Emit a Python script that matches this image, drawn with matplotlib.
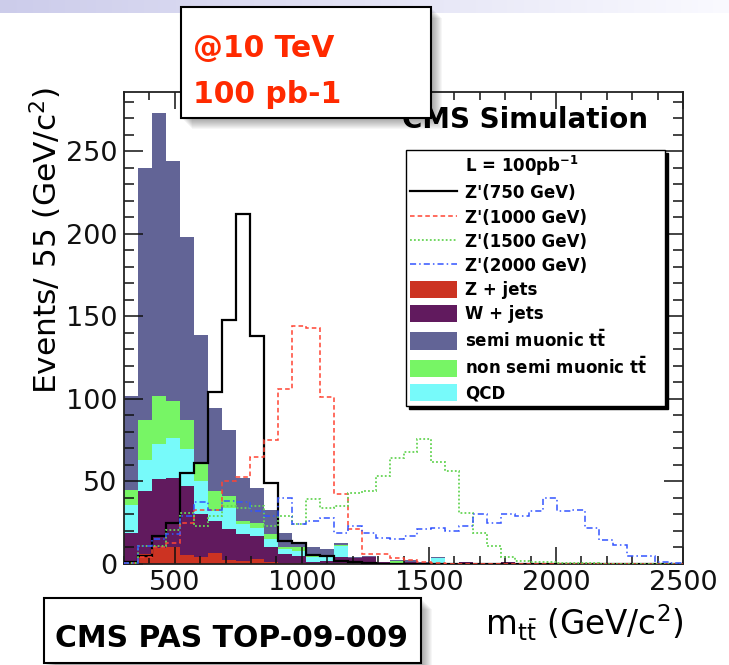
"""Z' -> ttbar invariant mass, CMS simulation at 10 TeV, 100 pb-1 (slide snapshot)."""
import numpy as np
import matplotlib

matplotlib.use("Agg")
import matplotlib.pyplot as plt
from matplotlib.lines import Line2D
from matplotlib.patches import Patch, Rectangle
from matplotlib.ticker import MultipleLocator

# binning of m_ttbar (GeV/c^2)
m_min, m_max, bin_width = 300, 2500, 55

# stacked backgrounds, events per bin (bottom to top)
z_jets = [2, 6, 9.5, 10.5, 5.5, 4.5, 6.5, 2.5, 2, 3,
          1, 0.8, 0.5, 0.3, 0.3, 0.3, 0.2, 0.2, 0.2, 0.1,
          0, 0, 0, 0, 0, 0, 0, 0, 0, 0,
          0, 0, 0, 0, 0, 0, 0, 0, 0, 0]
w_jets = [17, 38.5, 42, 41.5, 41.5, 25.5, 19.5, 18.5, 16, 14,
          9, 5.2, 4.5, 1.2, 1.7, 4.2, 3.2, 3.8, 0.8, 0.7,
          1, 0.5, 0.5, 0.3, 1, 0.3, 0.3, 1, 0.3, 0.8,
          0.2, 0.2, 0.2, 0.2, 0.2, 0.2, 0.2, 0.8, 0.2, 0.1]
qcd = [17, 18.5, 21.5, 24.5, 22.5, 20, 6, 13, 6, 5,
       5, 3, 3, 3, 2, 6.5, 0.2, 0.2, 0.1, 0.1,
       0.2, 0.1, 3, 0.1, 0.1, 0, 0, 0, 0, 0,
       0, 0, 0, 0, 0, 0, 0, 0, 0, 0]
non_semi_mu_tt = [9, 24, 29, 22.5, 17.5, 12, 12, 7, 2, 3,
                  3, 1.5, 2, 0.5, 1.5, 0.5, 0.2, 0.3, 0.1, 1.1,
                  0.3, 0.2, 0.2, 0.1, 0.1, 0.1, 0, 0, 0, 0,
                  0, 0, 0, 0, 0, 0, 0, 0, 0, 0]
semi_mu_tt = [57, 153, 171, 145, 111, 77, 50.5, 40, 26, 21,
              15, 8.5, 3, 5.5, 3.5, 1.5, 0.7, 0.5, 0.3, 0.2,
              0.9, 0.2, 0.3, 0.1, 0.1, 0.1, 0, 0, 0, 0,
              0, 0, 0, 0, 0, 0, 0, 0, 0, 0]

# Z' signals, events per bin
zp750 = [1, 5, 17, 25, 55, 61, 104, 148, 212, 138,
         49, 14, 13, 5.5, 5, 2, 1, 0.5, 0.3, 0.2,
         0.1, 0, 0, 0, 0, 0, 0, 0, 0, 0,
         0, 0, 0, 0, 0, 0, 0, 0, 0, 0]
zp1000 = [0.5, 4, 10, 13, 25, 33, 33, 50.5, 52.5, 65,
          75, 106, 144, 143, 101, 42.5, 21, 6, 6, 3.4,
          2.4, 1, 0.5, 0.3, 0.3, 0.2, 0.2, 0.1, 0.1, 0.1,
          0, 0, 0, 0, 0, 0, 0, 0, 0, 0]
zp1500 = [0.5, 11, 11, 20.5, 31, 23, 29, 35, 34, 35,
          23, 29, 24, 39.5, 34, 35, 43, 44.5, 53.6, 64,
          68, 76, 62, 56.5, 31, 19, 11, 4, 2, 1.5,
          1, 0.8, 0.5, 0.5, 0.3, 0.3, 0.2, 0.2, 0.1, 0.1]
zp2000 = [0.5, 11, 15, 18, 29, 37.5, 33, 38, 37.5, 32,
          29, 40, 24, 26, 28, 18.6, 23, 18.6, 16, 15,
          17, 21.5, 22, 20, 23, 30, 25, 30, 29, 32,
          40, 32, 33, 21.7, 14.6, 11.5, 5, 4.7, 1, 0.5]

bkg_labels = ["Z + jets", "W + jets", "QCD",
              r"non semi muonic t$\bar{\mathbf{t}}$", r"semi muonic t$\bar{\mathbf{t}}$"]
bkg_colors = ["#cc3322", "#611a5e", "#77fafa", "#77f565", "#626496"]
sig_labels = ["Z'(750 GeV)", "Z'(1000 GeV)", "Z'(1500 GeV)", "Z'(2000 GeV)"]
sig_colors = ["black", "#ff4433", "#66d455", "#3355ff"]
sig_styles = ["-", (0, (3, 2)), (0, (1, 1.2)), (0, (4, 2, 1, 2))]
sig_widths = [1.6, 1.1, 1.3, 1.1]

plt.rcParams["font.family"] = ["DejaVu Sans"]
plt.rcParams["mathtext.default"] = "regular"

W, H = 729, 665
fig = plt.figure(figsize=(W / 100, H / 100), dpi=100)
fig.patch.set_facecolor("white")

# slide header strip
strip = fig.add_axes([0, 1 - 13 / H, 1, 13 / H])
grad = np.linspace(0, 1, 256)[None, :, None]
c0 = np.array([0.80, 0.80, 0.92])
c1 = np.array([0.98, 0.98, 1.0])
strip.imshow(c0 + (c1 - c0) * grad, aspect="auto", extent=[0, 1, 0, 1])
strip.axis("off")

ax = fig.add_axes([124 / W, 1 - 564 / H, (683 - 124) / W, (564 - 92) / H])
edges = np.arange(m_min, m_max + 1, bin_width)

stack = np.vstack([z_jets, w_jets, qcd, non_semi_mu_tt, semi_mu_tt])
tops = np.cumsum(stack, axis=0)
bottom = np.zeros(len(edges) - 1)
for top, col in zip(tops, bkg_colors):
    ax.stairs(top, edges, baseline=bottom, fill=True, color=col, lw=0, zorder=1)
    bottom = top

for vals, col, ls, lw in zip([zp750, zp1000, zp1500, zp2000], sig_colors, sig_styles, sig_widths):
    ax.stairs(vals, edges, color=col, linestyle=ls, lw=lw, zorder=3)

ax.set_xlim(m_min, m_max)
ax.set_ylim(0, 286)
ax.xaxis.set_major_locator(MultipleLocator(500))
ax.xaxis.set_minor_locator(MultipleLocator(100))
ax.yaxis.set_major_locator(MultipleLocator(50))
ax.yaxis.set_minor_locator(MultipleLocator(10))
ax.tick_params(which="both", direction="in", top=True, right=True, width=1.1,
               labelsize=19.5, colors="#111111")
ax.tick_params(axis="y", which="major", length=13.5, pad=5)
ax.tick_params(axis="y", which="minor", length=7)
ax.tick_params(axis="x", which="major", length=12, pad=4)
ax.tick_params(axis="x", which="minor", length=5.5)
for s in ax.spines.values():
    s.set_linewidth(1.3)
    s.set_color("#222222")

ax.set_ylabel(r"Events/ 55 (GeV/c$^{2}$)", fontsize=22.5, va="center", ha="center")
ax.yaxis.set_label_coords(-0.14, 0.686)
ax.set_xlabel(r"m$_{t\bar{t}}$ (GeV/c$^{2}$)", fontsize=23.5, va="center", ha="right")
ax.xaxis.set_label_coords(1.0, -0.125)

# legend
handles = [Line2D([], [], lw=0)]
labels = [r"L = 100pb$^{\mathbf{-1}}$"]
for col, ls, lw, lab in zip(sig_colors, sig_styles, sig_widths, sig_labels):
    handles.append(Line2D([], [], color=col, linestyle=ls, lw=lw))
    labels.append(lab)
for idx in [0, 1, 4, 3, 2]:
    handles.append(Patch(facecolor=bkg_colors[idx], edgecolor="none"))
    labels.append(bkg_labels[idx])
leg = ax.legend(handles, labels, loc="upper left", mode="expand",
                bbox_to_anchor=(406 / W, 1 - 412 / H, (665 - 406) / W, (412 - 150) / H),
                bbox_transform=fig.transFigure, borderaxespad=0,
                prop={"weight": "bold", "size": 12}, handlelength=2.8, handleheight=1.2,
                handletextpad=0.5, labelspacing=0.36, borderpad=0.25,
                fancybox=False, framealpha=1, edgecolor="black",
                shadow={"color": "black", "alpha": 1})
leg.get_frame().set_linewidth(1.0)
leg.set_zorder(5)

fig.text(648 / W, 1 - 128 / H, "CMS Simulation", fontsize=20, fontweight="bold",
         ha="right", va="baseline", zorder=2)


def boxed(x0, y0, x1, y1):
    # white box with soft drop shadow, pixel coords from the top-left
    for i in range(1, 12):
        fig.add_artist(Rectangle(((x0 + i) / W, 1 - (y1 + i) / H), (x1 - x0) / W, (y1 - y0) / H,
                                 transform=fig.transFigure, facecolor="black",
                                 edgecolor="none", alpha=0.035, zorder=8))
    fig.add_artist(Rectangle((x0 / W, 1 - y1 / H), (x1 - x0) / W, (y1 - y0) / H,
                             transform=fig.transFigure, facecolor="white",
                             edgecolor="black", lw=1.5, zorder=9))


boxed(181, 7, 431, 118)
fig.text(193 / W, 1 - 57 / H, "@10 TeV", color="#ff2a00", fontsize=21.5,
         fontweight="bold", ha="left", va="baseline", zorder=10)
fig.text(193 / W, 1 - 103 / H, "100 pb-1", color="#ff2a00", fontsize=21.5,
         fontweight="bold", ha="left", va="baseline", zorder=10)

boxed(44, 598, 421, 663)
fig.text(55 / W, 1 - 647 / H, "CMS PAS TOP-09-009", color="black", fontsize=21.5,
         fontweight="bold", ha="left", va="baseline", zorder=10)

fig.savefig("out.png", dpi=100)
